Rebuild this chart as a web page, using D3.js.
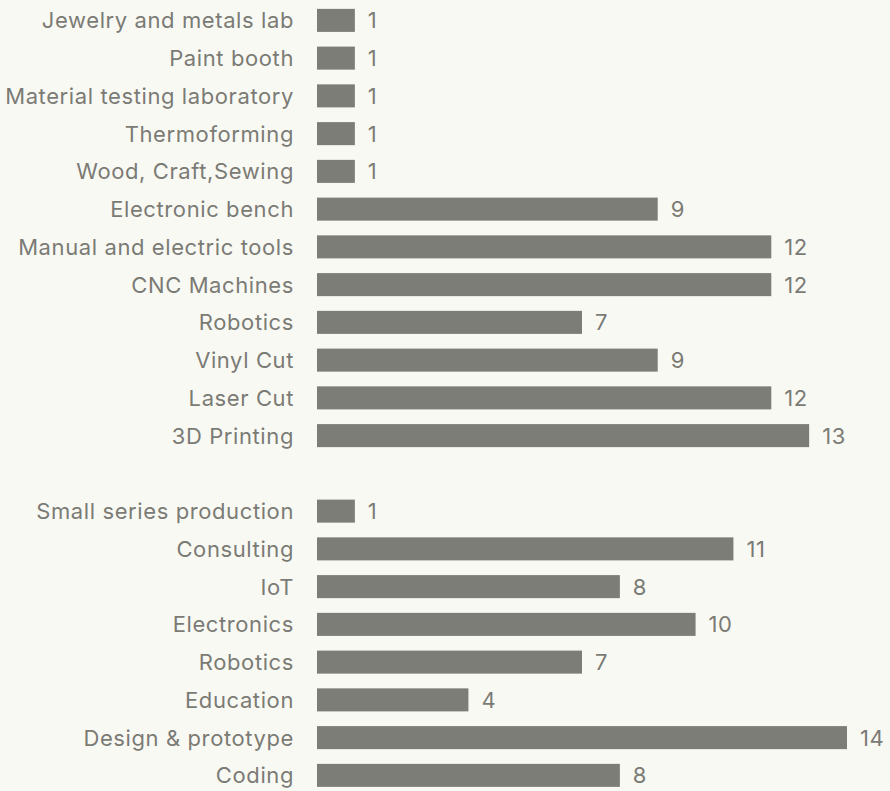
<!DOCTYPE html>
<html>
<head>
<meta charset="utf-8">
<script src="https://cdn.jsdelivr.net/npm/d3@7"></script>
<style>
  html, body { margin: 0; padding: 0; background: #f9f9f4; }
  svg { display: block; }
  text { font-family: Inter, "Noto Sans", sans-serif; fill: #7b7b75; letter-spacing: 0.6px; }
</style>
</head>
<body>
<svg class="chart"></svg>
<script>
// equipment rows, then an empty slot, then service rows
var equipment = ['Jewelry and metals lab', 'Paint booth', 'Material testing laboratory', 'Thermoforming',
  'Wood, Craft,Sewing', 'Electronic bench', 'Manual and electric tools', 'CNC Machines', 'Robotics',
  'Vinyl Cut', 'Laser Cut', '3D Printing'];
var equipmentValues = [1, 1, 1, 1, 1, 9, 12, 12, 7, 9, 12, 13];

var services = ['Small series production', 'Consulting', 'IoT', 'Electronics', 'Robotics', 'Education',
  'Design & prototype', 'Coding'];
var serviceValues = [1, 11, 8, 10, 7, 4, 14, 8];

var width = 890;
var height = 791;

var chart = d3.select('.chart')
  .attr('width', width)
  .attr('height', height);

var rows = [];
equipment.forEach((d, i) => rows.push({ key: 'e' + i, label: d, value: equipmentValues[i] }));
rows.push({ key: 'gap', label: '', value: null });
services.forEach((d, i) => rows.push({ key: 's' + i, label: d, value: serviceValues[i] }));

var y = d3.scaleBand()
  .domain(rows.map(d => d.key))
  .range([1.5, 1.5 + 37.75 * rows.length])
  .paddingInner(0.39)
  .paddingOuter(0.195);

var x = d3.scaleLinear()
  .domain([0, 14])
  .range([317, 847]);

var data = rows.filter(d => d.value !== null);

var row = chart.append('g')
  .selectAll('g')
  .data(data)
  .enter().append('g');

row.append('rect')
  .attr('x', x(0))
  .attr('y', d => y(d.key))
  .attr('width', d => x(d.value) - x(0))
  .attr('height', y.bandwidth())
  .attr('fill', '#7d7d77');

row.append('text')
  .attr('x', 294)
  .attr('y', d => y(d.key) + y.bandwidth() / 2)
  .attr('dy', '0.36em')
  .attr('text-anchor', 'end')
  .style('font-size', '22px')
  .text(d => d.label);

row.append('text')
  .attr('x', d => x(d.value) + 13)
  .attr('y', d => y(d.key) + y.bandwidth() / 2)
  .attr('dy', '0.36em')
  .style('font-size', '22px')
  .text(d => d.value);
</script>
</body>
</html>
